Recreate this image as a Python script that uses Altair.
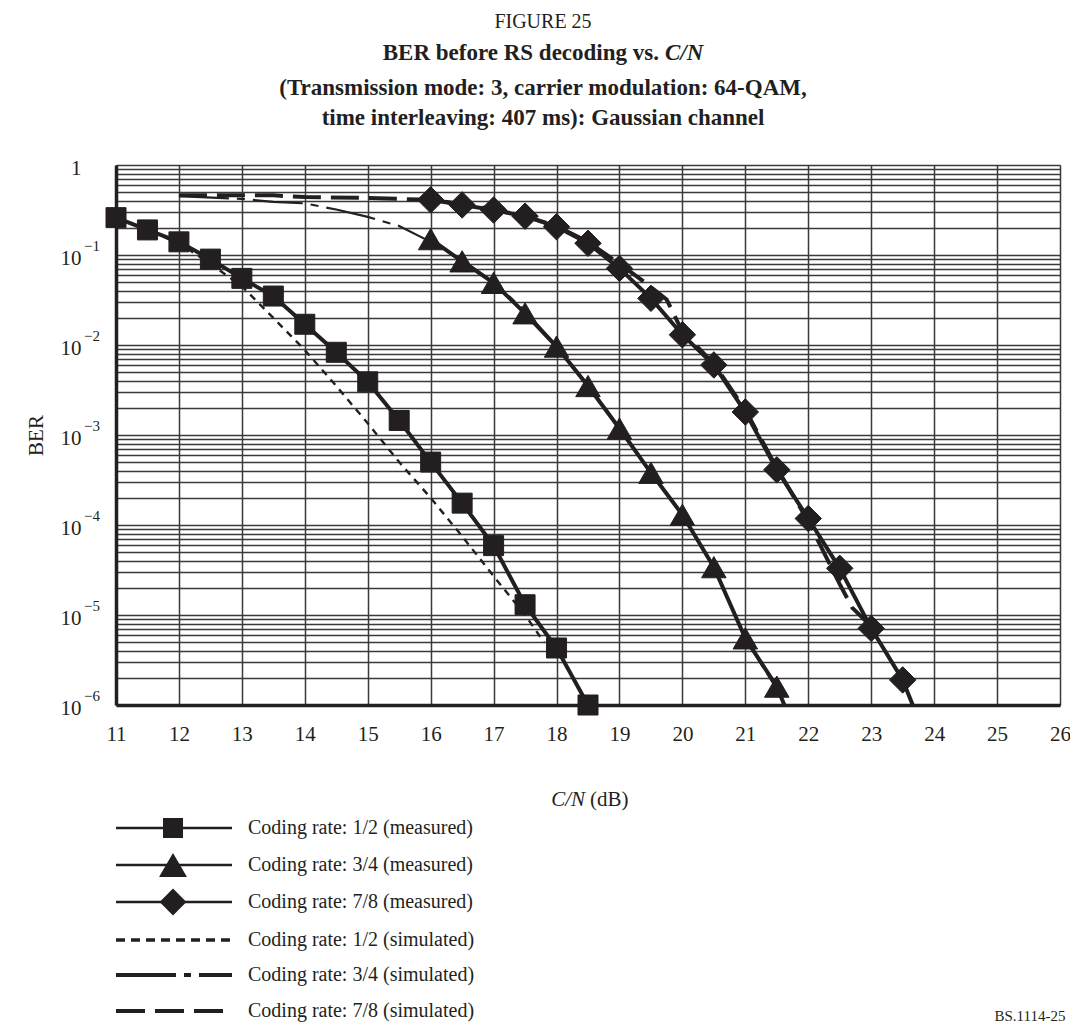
import altair as alt
import pandas as pd

# ---------------- data ----------------
# Coding rate 1/2 measured (squares)
cn_r12_meas = [11, 11.5, 12, 12.5, 13, 13.5, 14, 14.5, 15, 15.5, 16, 16.5, 17, 17.5, 18, 18.5]
ber_r12_meas = [0.26, 0.19, 0.14, 0.09, 0.055, 0.035, 0.017, 0.0083, 0.0039, 0.00145,
                5.0e-4, 1.75e-4, 5.9e-5, 1.3e-5, 4.3e-6, 1.0e-6]

# Coding rate 3/4 measured (triangles)
cn_r34_meas = [16, 16.5, 17, 17.5, 18, 18.5, 19, 19.5, 20, 20.5, 21, 21.5]
ber_r34_meas = [0.15, 0.085, 0.049, 0.0225, 0.0096, 0.0035, 0.00118, 3.8e-4, 1.3e-4, 3.4e-5, 5.5e-6, 1.6e-6]
cn_r34_tail = [21.5, 21.62]
ber_r34_tail = [1.6e-6, 1.0e-6]

# Coding rate 7/8 measured (diamonds)
cn_r78_meas = [16, 16.5, 17, 17.5, 18, 18.5, 19, 19.5, 20, 20.5, 21, 21.5, 22, 22.5, 23, 23.5]
ber_r78_meas = [0.41, 0.36, 0.316, 0.27, 0.206, 0.135, 0.071, 0.033, 0.013, 0.006, 0.0018,
                4.1e-4, 1.18e-4, 3.3e-5, 7.1e-6, 1.9e-6]
cn_r78_tail = [23.5, 23.66]
ber_r78_tail = [1.9e-6, 1.0e-6]

# Simulated curves
cn_r12_sim = [11, 11.5, 12, 12.5, 13, 13.5, 14, 14.5, 15, 15.5, 16, 16.5, 17, 17.5, 17.8]
ber_r12_sim = [0.26, 0.19, 0.135, 0.08, 0.045, 0.02, 0.0088, 0.0035, 0.00135, 5.0e-4,
               2.0e-4, 7.5e-5, 2.7e-5, 1.0e-5, 5.0e-6]

cn_r34_sim = [12, 13, 13.5, 14, 14.5, 15, 15.5, 16, 16.5, 17, 17.5, 18, 18.5, 19, 19.5,
              20, 20.5, 21, 21.5]
ber_r34_sim = [0.45, 0.42, 0.39, 0.375, 0.32, 0.265, 0.21, 0.14, 0.088, 0.05, 0.024, 0.0098,
               0.0036, 0.0012, 3.8e-4, 1.3e-4, 3.4e-5, 5.5e-6, 1.5e-6]

cn_r78_sim = [12, 13, 13.5, 14, 15, 16, 16.5, 17, 17.5, 18, 18.5, 19, 19.4, 19.75, 20, 20.5,
              21, 21.5, 22, 22.5, 22.7, 23]
ber_r78_sim = [0.46, 0.46, 0.46, 0.44, 0.43, 0.41, 0.37, 0.32, 0.27, 0.21, 0.14, 0.08, 0.05,
               0.032, 0.014, 0.0062, 0.0019, 4.3e-4, 1.1e-4, 2.2e-5, 1.2e-5, 7.5e-6]

# axis ticks
x_ticks = list(range(11, 27))
decade_exps = [-6, -5, -4, -3, -2, -1]
mantissas = [1, 2, 3, 4, 5, 6, 7, 8, 9]
y_ticks = [round(m * 10.0 ** e, 12) for e in decade_exps for m in mantissas] + [1.0]
sup_vals = [10.0 ** e for e in decade_exps]
sup_text = ["\u2212" + str(-e) for e in decade_exps]

legend_labels = [
    "Coding rate: 1/2 (measured)",
    "Coding rate: 3/4 (measured)",
    "Coding rate: 7/8 (measured)",
    "Coding rate: 1/2 (simulated)",
    "Coding rate: 3/4 (simulated)",
    "Coding rate: 7/8 (simulated)",
]

# ---------------- style ----------------
INK = "#231f20"
GRID = "#3a3a3a"
FONT = "Liberation Serif"
W, H = 944, 540

xs = alt.Scale(domain=[11, 26], nice=False, zero=False)
ys = alt.Scale(type="log", domain=[1e-6, 1], nice=False)

xaxis = alt.Axis(values=x_ticks, format="d", grid=True, gridColor=GRID, gridWidth=1.5,
                 ticks=False, domainColor=INK, domainWidth=3.5, labelFont=FONT,
                 labelFontSize=21, labelColor=INK, labelPadding=18, labelFlush=False,
                 labelOverlap=False)
yaxis = alt.Axis(values=y_ticks, grid=True, gridColor=GRID, gridWidth=1.4, ticks=False,
                 domainColor=INK, domainWidth=3.5, labelFont=FONT, labelFontSize=21,
                 labelColor=INK, labelPadding=35, labelFlush=False, labelOverlap=False,
                 labelOffset=3,
                 labelExpr="datum.value == 1 ? '1' : (abs(log(datum.value)/LN10 - round(log(datum.value)/LN10)) < 0.001 ? '10' : '')",
                 titleFont=FONT, titleFontSize=21, titleFontWeight="normal", titleColor=INK,
                 titleAngle=270, titleX=-80, titleY=270, titleAlign="center",
                 titleBaseline="middle")


def enc_xy():
    return dict(x=alt.X("cn:Q", scale=xs, axis=xaxis, title=None),
                y=alt.Y("ber:Q", scale=ys, axis=yaxis, title="BER"))


def df(x, y):
    return pd.DataFrame({"cn": x, "ber": y})


layers = []

# simulated curves (behind)
layers.append(alt.Chart(df(cn_r12_sim, ber_r12_sim)).mark_line(
    color=INK, strokeWidth=2.4, strokeDash=[7, 6]).encode(**enc_xy()))
layers.append(alt.Chart(df(cn_r34_sim, ber_r34_sim)).mark_line(
    color=INK, strokeWidth=2.2, strokeDash=[50, 8, 8, 8]).encode(**enc_xy()))
layers.append(alt.Chart(df(cn_r78_sim, ber_r78_sim)).mark_line(
    color=INK, strokeWidth=4, strokeDash=[28, 10]).encode(**enc_xy()))

# measured curves
for cx, by in [(cn_r12_meas, ber_r12_meas), (cn_r34_meas, ber_r34_meas),
               (cn_r34_tail, ber_r34_tail), (cn_r78_meas, ber_r78_meas),
               (cn_r78_tail, ber_r78_tail)]:
    layers.append(alt.Chart(df(cx, by)).mark_line(color=INK, strokeWidth=4).encode(**enc_xy()))

# markers
for cx, by, shp, sz in [(cn_r12_meas, ber_r12_meas, "square", 400),
                        (cn_r34_meas, ber_r34_meas, "triangle-up", 600),
                        (cn_r78_meas, ber_r78_meas, "diamond", 700)]:
    layers.append(alt.Chart(df(cx, by)).mark_point(
        shape=shp, size=sz, filled=True, color=INK, opacity=1, strokeWidth=1, stroke=INK
    ).encode(**enc_xy()))

# superscripts of the y labels
layers.append(alt.Chart(pd.DataFrame({"ber": sup_vals, "sup": sup_text})).mark_text(
    font=FONT, fontSize=15, color=INK, align="left", baseline="middle", dy=-9
).encode(y=alt.Y("ber:Q", scale=ys, axis=yaxis, title="BER"), x=alt.value(-32),
         text="sup:N"))

one = pd.DataFrame({"a": [0]})


def txt(text, x, y, size=21, weight="normal", style="normal", align="center"):
    kw = dict(text=text, font=FONT, fontSize=size, fontWeight=weight, fontStyle=style,
              color=INK, align=align, baseline="middle")
    return alt.Chart(one).mark_text(**kw).encode(x=alt.value(x), y=alt.value(y))


# titles
layers.append(txt("FIGURE 25", 427, -143, size=20))
layers.append(txt("BER before RS decoding vs.", 543, -112, size=23, weight="bold", align="right"))
layers.append(txt("C/N", 549, -112, size=23, weight="bold", style="italic", align="left"))
layers.append(txt("(Transmission mode: 3, carrier modulation: 64-QAM,", 427, -77, size=23, weight="bold"))
layers.append(txt("time interleaving: 407 ms): Gaussian channel", 427, -47, size=23, weight="bold"))

# x axis title
layers.append(txt("C/N", 469, 635, size=21, style="italic", align="right"))
layers.append(txt("(dB)", 474, 635, size=21, align="left"))

# legend
leg_y = [663, 700, 737, 775, 810, 846]
leg_dash = [None, None, None, [9, 6], [60, 8, 7, 8], [29, 10]]
leg_w = [2.6, 2.6, 2.6, 3.5, 4, 4]
leg_shape = ["square", "triangle-up", "diamond", None, None, None]
leg_size = [400, 780, 720, 0, 0, 0]
for i, lab in enumerate(legend_labels):
    rk = dict(color=INK, strokeWidth=leg_w[i])
    if leg_dash[i]:
        rk["strokeDash"] = leg_dash[i]
    layers.append(alt.Chart(one).mark_rule(**rk).encode(
        x=alt.value(0), x2=alt.value(116), y=alt.value(leg_y[i])))
    if leg_shape[i]:
        layers.append(alt.Chart(one).mark_point(
            shape=leg_shape[i], size=leg_size[i], filled=True, color=INK, opacity=1
        ).encode(x=alt.value(57), y=alt.value(leg_y[i])))
    layers.append(txt(lab, 132, leg_y[i], size=20, align="left"))

# figure reference label
layers.append(txt("BS.1114-25", 914, 851, size=15))

chart = alt.layer(*layers).properties(
    width=W, height=H,
    autosize=alt.AutoSizeParams(type="none"),
    padding={"left": 108, "top": 157, "right": 10, "bottom": 323},
).configure_view(stroke="#4a4a4a", strokeWidth=3).configure(background="white")

chart.save("out.html", embed_options={"renderer": "svg", "actions": False})
